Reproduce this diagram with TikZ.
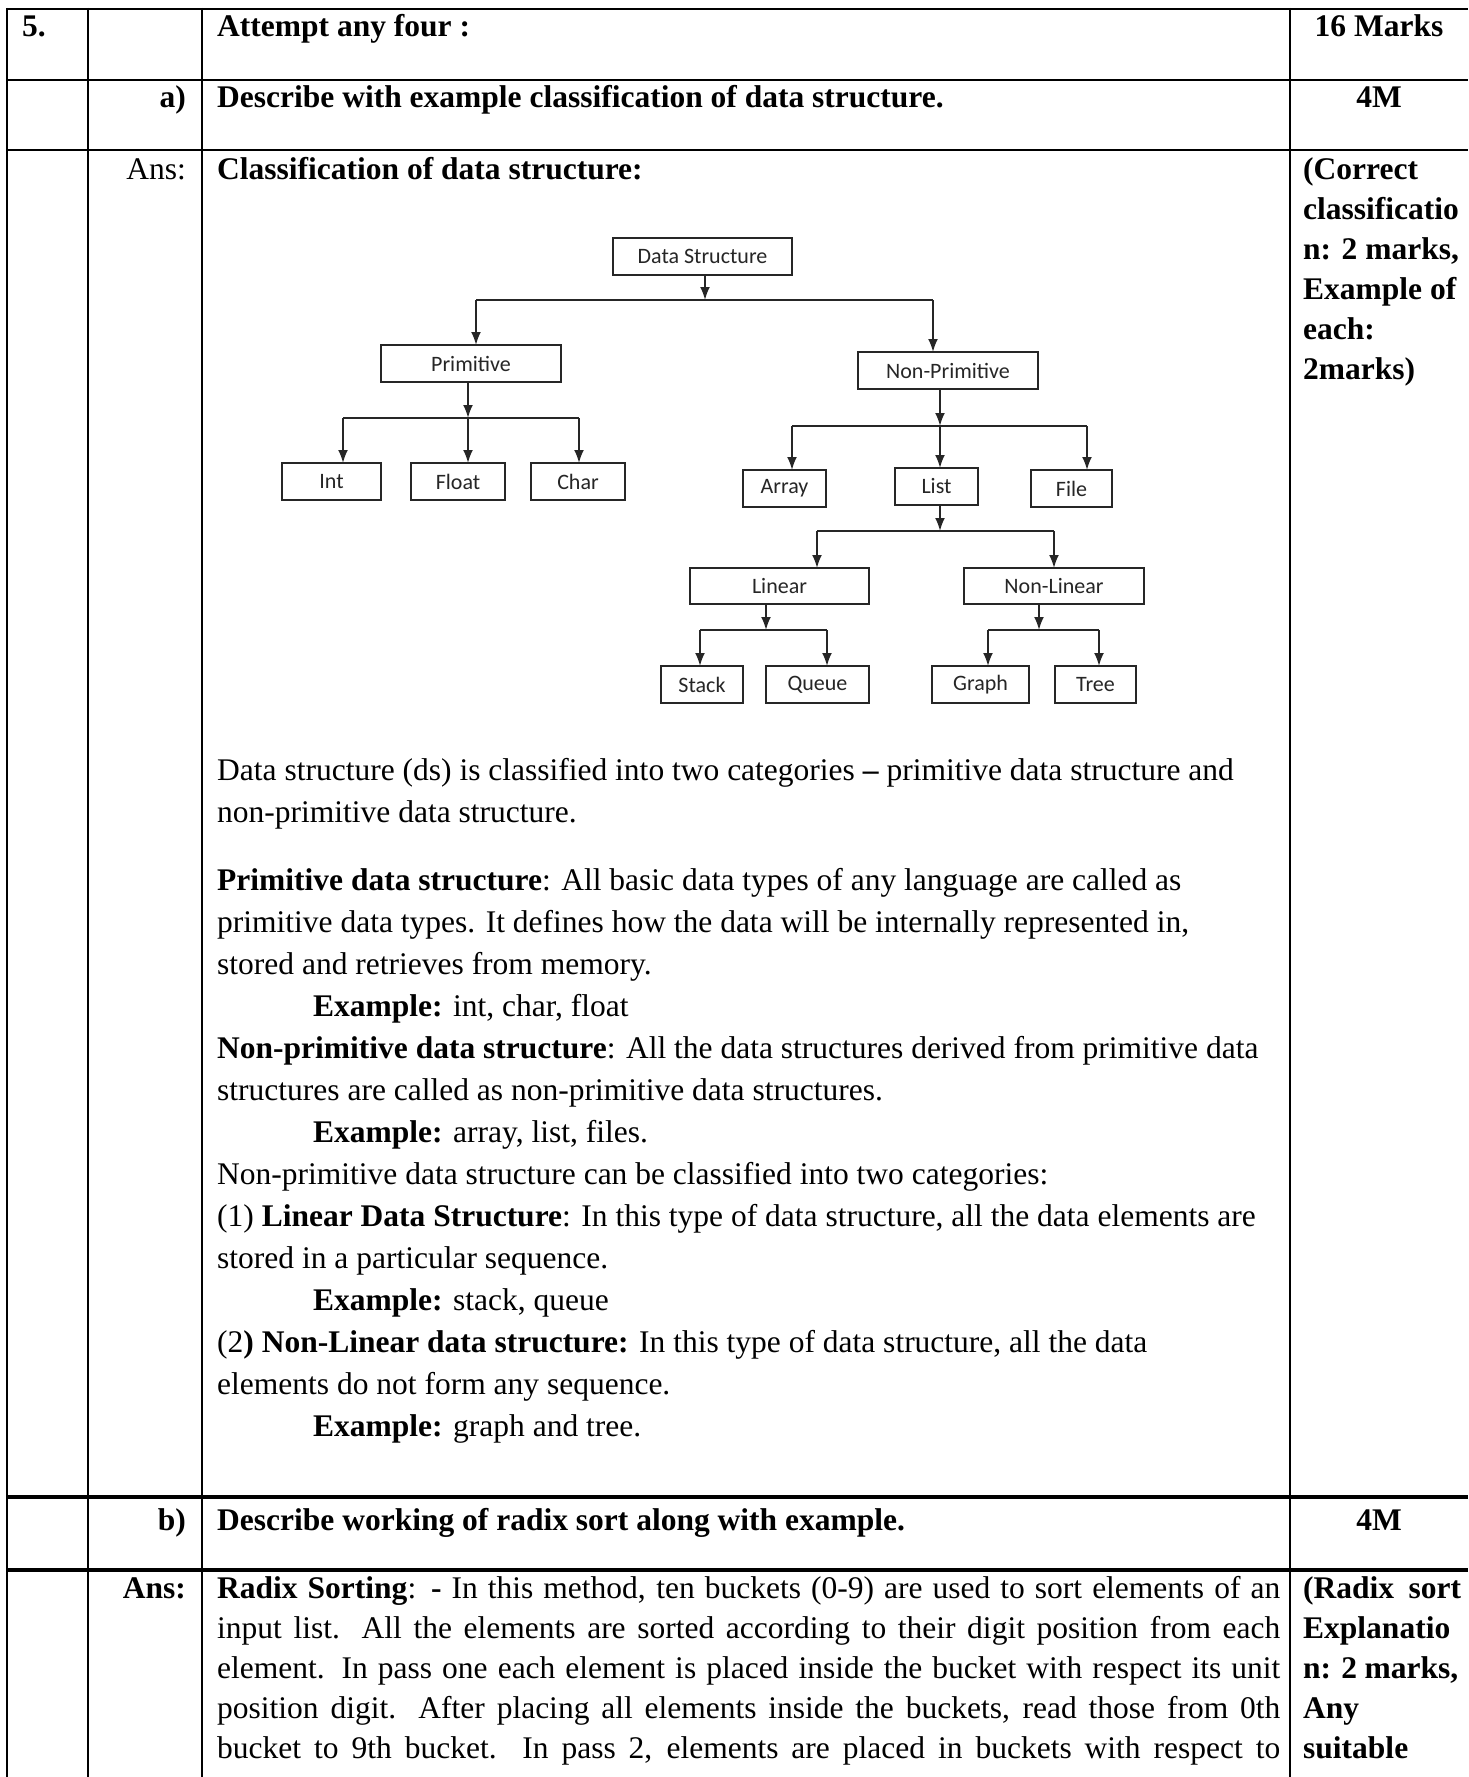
\documentclass[tikz,border=0pt]{standalone}
\usepackage{fontspec}
\setmainfont{Liberation Serif}
\newfontfamily\diagfont{Carlito}
\usetikzlibrary{arrows.meta}
\begin{document}
\begin{tikzpicture}[x=1pt,y=-1pt,
  rule/.style={line width=2.2pt},
  thickrule/.style={line width=3.6pt},
  txt/.style={anchor=base west,inner sep=0pt,font=\fontsize{31.5}{40}\selectfont},
  txtr/.style={txt,anchor=base east},
  txtc/.style={txt,anchor=base},
  box/.style={draw=black!85,line width=2pt,outer sep=0pt,inner sep=0pt,
    font=\diagfont\fontsize{22}{26}\selectfont,text=black!85},
  link/.style={draw=black!85,line width=2pt},
  arr/.style={link,-{Latex[length=13pt,width=10pt]}}
]
\useasboundingbox (0,0) rectangle (1468,1777);
\fill[white] (0,0) rectangle (1468,1777);

% ---------- table rules ----------
\foreach \x in {7,88,202,1290} \draw[rule] (\x,8) -- (\x,1777);
\foreach \y in {9,80,150} \draw[rule] (6,\y) -- (1468,\y);
\foreach \y in {1497,1570} \draw[thickrule] (6,\y) -- (1468,\y);

% ---------- header rows ----------
\node[txt] (qno) at (22,37) {\textbf{5.}};
\node[txt] (qhead) at (217,37) {\textbf{Attempt any four :}};
\node[txtc] (qmarks) at (1379,37) {\textbf{16 Marks}};

\node[txtr] (qa) at (186,107) {\textbf{a)}};
\node[txt] (qatext) at (217,107) {\textbf{Describe with example classification of data structure.}};
\node[txtc] (qamarks) at (1379,107) {\textbf{4M}};

\node[txtr] (ansa) at (186,179) {Ans:};
\node[txt] (ansahead) at (217,179) {\textbf{Classification of data structure:}};

% marking scheme, part a
\node[txt] (ma1) at (1303,179) {\textbf{(Correct}};
\node[txt] (ma2) at (1303,219) {\textbf{classificatio}};
\node[txt] (ma3) at (1303,259) {\textbf{n: 2 marks,}};
\node[txt] (ma4) at (1303,299) {\textbf{Example of}};
\node[txt] (ma5) at (1303,339) {\textbf{each:}};
\node[txt] (ma6) at (1303,379) {\textbf{2marks)}};

% ---------- classification tree ----------
\node[box,minimum width=179pt,minimum height=37pt] (ds) at (702.5,256.5) {Data Structure};
\node[box,minimum width=180pt,minimum height=37pt] (prim) at (471,363.5) {Primitive};
\node[box,minimum width=180pt,minimum height=37pt] (nprim) at (948,370.5) {Non-Primitive};
\node[box,minimum width=99pt,minimum height=37pt] (int) at (331.5,481.5) {Int};
\node[box,minimum width=94pt,minimum height=37pt] (float) at (458,481.5) {Float};
\node[box,minimum width=94pt,minimum height=37pt] (char) at (578,481.5) {Char};
\node[box,minimum width=83pt,minimum height=37pt] (array) at (784.5,488.5) {Array};
\node[box,minimum width=83pt,minimum height=37pt] (list) at (936.5,486.5) {List};
\node[box,minimum width=81pt,minimum height=37pt] (file) at (1071.5,488.5) {File};
\node[box,minimum width=179pt,minimum height=36pt] (linear) at (779.5,586) {Linear};
\node[box,minimum width=180pt,minimum height=36pt] (nlinear) at (1054,586) {Non-Linear};
\node[box,minimum width=82pt,minimum height=37pt] (stack) at (702,684.5) {Stack};
\node[box,minimum width=103pt,minimum height=37pt] (queue) at (817.5,684.5) {Queue};
\node[box,minimum width=97pt,minimum height=37pt] (graph) at (980.5,684.5) {Graph};
\node[box,minimum width=81pt,minimum height=37pt] (tree) at (1095.5,684.5) {Tree};

% junctions on the branching bars
\coordinate (j0) at (705,300);  \coordinate (j0a) at (476,300);  \coordinate (j0b) at (933,300);
\coordinate (j1) at (468,418);  \coordinate (j1a) at (343,418);  \coordinate (j1b) at (579,418);
\coordinate (j2) at (940,426);  \coordinate (j2a) at (792,426);  \coordinate (j2b) at (1087,426);
\coordinate (j3) at (940,531);  \coordinate (j3a) at (817,531);  \coordinate (j3b) at (1054,531);
\coordinate (j4) at (766,630);  \coordinate (j4a) at (700,630);  \coordinate (j4b) at (827,630);
\coordinate (j5) at (1039,630); \coordinate (j5a) at (988,630);  \coordinate (j5b) at (1099,630);

\draw[arr] (ds.south -| j0) -- (j0);
\draw[link] (j0a) -- (j0b);
\draw[arr] (j0a) -- (j0a |- prim.north);
\draw[arr] (j0b) -- (j0b |- nprim.north);

\draw[arr] (prim.south -| j1) -- (j1);
\draw[link] (j1a) -- (j1b);
\draw[arr] (j1a) -- (j1a |- int.north);
\draw[arr] (j1) -- (j1 |- float.north);
\draw[arr] (j1b) -- (j1b |- char.north);

\draw[arr] (nprim.south -| j2) -- (j2);
\draw[link] (j2a) -- (j2b);
\draw[arr] (j2a) -- (j2a |- array.north);
\draw[arr] (j2) -- (j2 |- list.north);
\draw[arr] (j2b) -- (j2b |- file.north);

\draw[arr] (list.south -| j3) -- (j3);
\draw[link] (j3a) -- (j3b);
\draw[arr] (j3a) -- (j3a |- linear.north);
\draw[arr] (j3b) -- (j3b |- nlinear.north);

\draw[arr] (linear.south -| j4) -- (j4);
\draw[link] (j4a) -- (j4b);
\draw[arr] (j4a) -- (j4a |- stack.north);
\draw[arr] (j4b) -- (j4b |- queue.north);

\draw[arr] (nlinear.south -| j5) -- (j5);
\draw[link] (j5a) -- (j5b);
\draw[arr] (j5a) -- (j5a |- graph.north);
\draw[arr] (j5b) -- (j5b |- tree.north);

% ---------- explanation ----------
\node[txt] (p1) at (217,780) {Data structure (ds) is classified into two categories \textbf{–} primitive data structure and};
\node[txt] (p2) at (217,822) {non-primitive data structure.};
\node[txt] (p3) at (217,890) {\textbf{Primitive data structure}: All basic data types of any language are called as};
\node[txt] (p4) at (217,932) {primitive data types. It defines how the data will be internally represented in,};
\node[txt] (p5) at (217,974) {stored and retrieves from memory.};
\node[txt] (p6) at (313,1016) {\textbf{Example:} int, char, float};
\node[txt] (p7) at (217,1058) {\textbf{Non-primitive data structure}: All the data structures derived from primitive data};
\node[txt] (p8) at (217,1100) {structures are called as non-primitive data structures.};
\node[txt] (p9) at (313,1142) {\textbf{Example:} array, list, files.};
\node[txt] (p10) at (217,1184) {Non-primitive data structure can be classified into two categories:};
\node[txt] (p11) at (217,1226) {(1) \textbf{Linear Data Structure}: In this type of data structure, all the data elements are};
\node[txt] (p12) at (217,1268) {stored in a particular sequence.};
\node[txt] (p13) at (313,1310) {\textbf{Example:} stack, queue};
\node[txt] (p14) at (217,1352) {(2\textbf{) Non-Linear data structure:} In this type of data structure, all the data};
\node[txt] (p15) at (217,1394) {elements do not form any sequence.};
\node[txt] (p16) at (313,1436) {\textbf{Example:} graph and tree.};

% ---------- part b ----------
\node[txtr] (qb) at (186,1530) {\textbf{b)}};
\node[txt] (qbtext) at (217,1530) {\textbf{Describe working of radix sort along with example.}};
\node[txtc] (qbmarks) at (1379,1530) {\textbf{4M}};

\node[txtr] (ansb) at (186,1598) {\textbf{Ans:}};
\node[txt] (r1) at (217,1598) {\makebox[1063pt][s]{\textbf{Radix Sorting}: \textbf{-} In this method, ten buckets (0-9) are used to sort elements of an}};
\node[txt] (r2) at (217,1638) {\makebox[1063pt][s]{input list. All the elements are sorted according to their digit position from each}};
\node[txt] (r3) at (217,1678) {\makebox[1063pt][s]{element. In pass one each element is placed inside the bucket with respect its unit}};
\node[txt] (r4) at (217,1718) {\makebox[1063pt][s]{position digit. After placing all elements inside the buckets, read those from 0th}};
\node[txt] (r5) at (217,1758) {\makebox[1063pt][s]{bucket to 9th bucket. In pass 2, elements are placed in buckets with respect to}};

% marking scheme, part b
\node[txt] (mb1) at (1303,1598) {\makebox[158pt][s]{\textbf{(Radix sort}}};
\node[txt] (mb2) at (1303,1638) {\textbf{Explanatio}};
\node[txt] (mb3) at (1303,1678) {\makebox[155pt][s]{\textbf{n: 2 marks,}}};
\node[txt] (mb4) at (1303,1718) {\textbf{Any}};
\node[txt] (mb5) at (1303,1758) {\textbf{suitable}};
\end{tikzpicture}
\end{document}
